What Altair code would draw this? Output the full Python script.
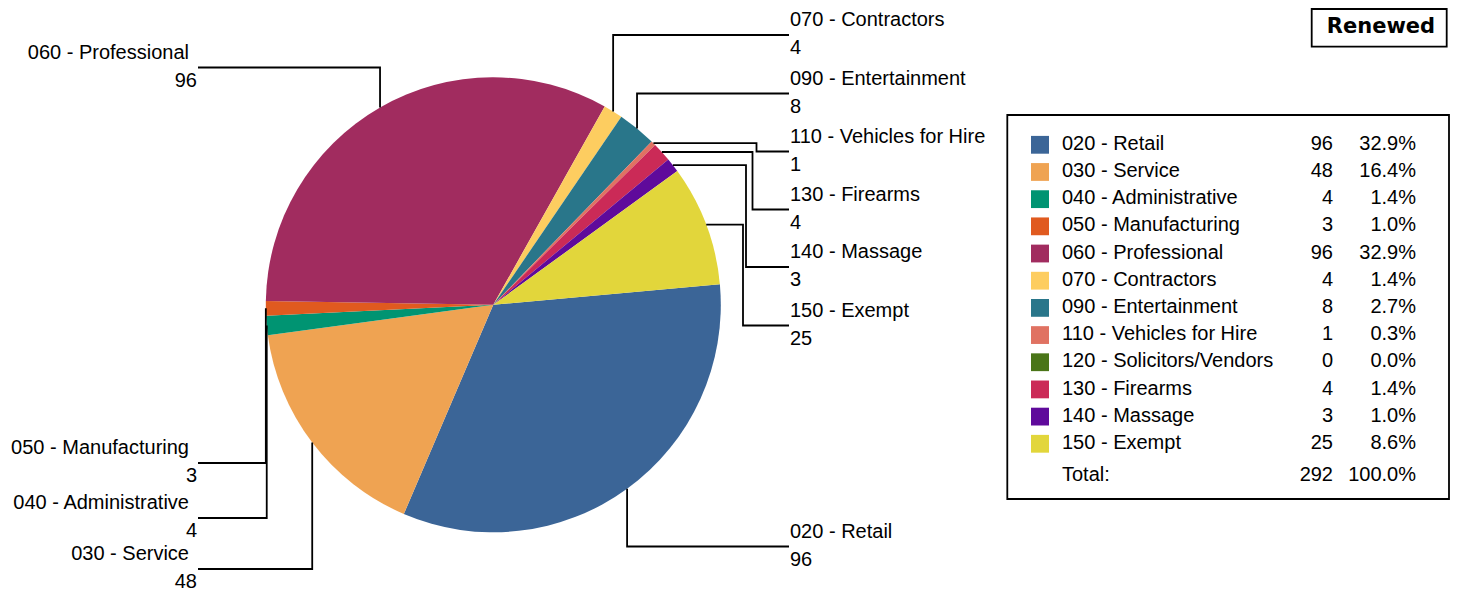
import math
import altair as alt
import pandas as pd

# ---------------- data ----------------
categories = ["020 - Retail", "030 - Service", "040 - Administrative", "050 - Manufacturing",
              "060 - Professional", "070 - Contractors", "090 - Entertainment",
              "110 - Vehicles for Hire", "120 - Solicitors/Vendors", "130 - Firearms",
              "140 - Massage", "150 - Exempt"]
counts = [96, 48, 4, 3, 96, 4, 8, 1, 0, 4, 3, 25]
colors = ["#3B6597", "#EFA352", "#009472", "#E05A1F", "#A12C5F", "#FDCD60", "#29768A",
          "#E07262", "#4A7518", "#CB2A57", "#5F0A9B", "#E2D63B"]
title_text = "Renewed"
total_label = "Total:"

# ---------------- layout (pixels in plot area) ----------------
W, H = 1442, 585
CX, CY, R = 485.3, 296.8, 227.5
START_DEG = 84.8
label_side = ["right", "left", "left", "left", "left", "right", "right", "right", None,
              "right", "right", "right"]
label_line_y = [538.5, 561, 510, 455, 59.5, 27, 85.5, 143.5, None, 201.5, 259, 317.5]
elbow_x = [None, None, None, None, None, None, None, 748.5, None, 744.5, 738, 735]
RIGHT_END, RIGHT_TEXT = 781, 782
LEFT_END, LEFT_NAME, LEFT_NUM = 190, 181, 189

LEG_BOX = (999.3, 1441, 107, 491)
LEG_ROW0, LEG_STEP = 136.8, 27.18
LEG_SW_X = (1023, 1041)
LEG_NAME_X, LEG_CNT_X, LEG_PCT_X = 1054, 1325, 1408
LEG_TOTAL_BASE = 473
TITLE_BOX = (1303.7, 1438.7, 1, 38.7)
TITLE_X, TITLE_BASE = 1373, 25

FONT = "Liberation Sans"
FS = 20

total = sum(counts)

# ---------------- tables ----------------
pie_df = pd.DataFrame({"cat": categories, "count": counts, "idx": list(range(len(categories)))})

line_rows, text_rows = [], []
cum = 0.0
for i, (cat, c) in enumerate(zip(categories, counts)):
    mid = cum + c / 2.0
    cum += c
    side = label_side[i]
    if side is None:
        continue
    a = math.radians(START_DEG + mid * 360.0 / total)
    ax = CX + R * math.sin(a)
    ay = CY - R * math.cos(a)
    ly = label_line_y[i]
    end = RIGHT_END if side == "right" else LEFT_END
    if elbow_x[i] is not None:
        pts = [(ax, ay), (elbow_x[i], ay), (elbow_x[i], ly), (end, ly)]
    else:
        pts = [(ax, ay), (ax, ly), (end, ly)]
    for s, (px, py) in enumerate(pts):
        line_rows.append({"cat": cat, "seq": s, "x": px, "y": py})
    num_base = ly + 19
    if side == "right":
        text_rows.append({"t": cat, "x": RIGHT_TEXT, "y": ly - 9, "al": "left"})
        text_rows.append({"t": str(c), "x": RIGHT_TEXT, "y": num_base, "al": "left"})
    else:
        text_rows.append({"t": cat, "x": LEFT_NAME, "y": ly - 9, "al": "right"})
        text_rows.append({"t": str(c), "x": LEFT_NUM, "y": num_base, "al": "right"})

lines_df = pd.DataFrame(line_rows)
text_df = pd.DataFrame(text_rows)

leg_rows = []
for i, (cat, c) in enumerate(zip(categories, counts)):
    cy = LEG_ROW0 + i * LEG_STEP
    leg_rows.append({"cat": cat, "cnt": str(c), "pct": f"{c / total * 100:.1f}%",
                     "y0": cy - 8.9, "y1": cy + 8.9, "base": cy + 5.1,
                     "x0": LEG_SW_X[0], "x1": LEG_SW_X[1]})
leg_df = pd.DataFrame(leg_rows)
tot_df = pd.DataFrame([{"cat": total_label, "cnt": str(total), "pct": "100.0%", "base": LEG_TOTAL_BASE}])

boxes_df = pd.DataFrame([
    {"x0": LEG_BOX[0], "x1": LEG_BOX[1], "y0": LEG_BOX[2], "y1": LEG_BOX[3]},
    {"x0": TITLE_BOX[0], "x1": TITLE_BOX[1], "y0": TITLE_BOX[2], "y1": TITLE_BOX[3]},
])
title_df = pd.DataFrame([{"t": title_text, "x": TITLE_X, "y": TITLE_BASE}])

color_scale = alt.Scale(domain=categories, range=colors)

def X(f):
    return alt.X(f, type="quantitative", scale=None, axis=None)

def Y(f):
    return alt.Y(f, type="quantitative", scale=None, axis=None)

pie = alt.Chart(pie_df).mark_arc(radius=R).encode(
    theta=alt.Theta("count:Q", stack=True,
                    scale=alt.Scale(range=[math.radians(START_DEG), math.radians(START_DEG) + 2 * math.pi])),
    color=alt.Color("cat:N", scale=color_scale, legend=None),
    order=alt.Order("idx:Q"),
    x=alt.value(CX), y=alt.value(CY),
)

leaders = alt.Chart(lines_df).mark_line(color="black", strokeWidth=1.8, interpolate="linear").encode(
    x=X("x"), y=Y("y"), detail="cat:N", order="seq:Q")

lab_right = alt.Chart(text_df).transform_filter(alt.datum.al == "left").mark_text(
    align="left", baseline="alphabetic", font=FONT, fontSize=FS, color="black").encode(
    x=X("x"), y=Y("y"), text="t:N")
lab_left = alt.Chart(text_df).transform_filter(alt.datum.al == "right").mark_text(
    align="right", baseline="alphabetic", font=FONT, fontSize=FS, color="black").encode(
    x=X("x"), y=Y("y"), text="t:N")

boxes = alt.Chart(boxes_df).mark_rect(fill=None, stroke="black", strokeWidth=1.8).encode(
    x=X("x0"), x2="x1", y=Y("y0"), y2="y1")

swatches = alt.Chart(leg_df).mark_rect().encode(
    x=X("x0"), x2="x1", y=Y("y0"), y2="y1",
    color=alt.Color("cat:N", scale=color_scale, legend=None))

def txt(df, field, xpos, align):
    return alt.Chart(df).mark_text(align=align, baseline="alphabetic", font=FONT, fontSize=FS,
                                   color="black").encode(
        x=alt.value(xpos), y=Y("base"), text=f"{field}:N")

leg_name = txt(leg_df, "cat", LEG_NAME_X, "left")
leg_cnt = txt(leg_df, "cnt", LEG_CNT_X, "right")
leg_pct = txt(leg_df, "pct", LEG_PCT_X, "right")
tot_name = txt(tot_df, "cat", LEG_NAME_X, "left")
tot_cnt = txt(tot_df, "cnt", LEG_CNT_X, "right")
tot_pct = txt(tot_df, "pct", LEG_PCT_X, "right")

title = alt.Chart(title_df).mark_text(align="center", baseline="alphabetic", font="DejaVu Sans",
                                      fontSize=21, fontWeight="bold", color="black").encode(
    x=X("x"), y=Y("y"), text="t:N")

chart = alt.layer(pie, leaders, lab_right, lab_left, boxes, swatches, leg_name, leg_cnt, leg_pct,
                  tot_name, tot_cnt, tot_pct, title).properties(
    width=W, height=H, autosize=alt.AutoSizeParams(type="none"), padding=0,
    background="white",
).configure_view(stroke=None)

chart.save("out.html", embed_options={"renderer": "svg", "actions": False})
